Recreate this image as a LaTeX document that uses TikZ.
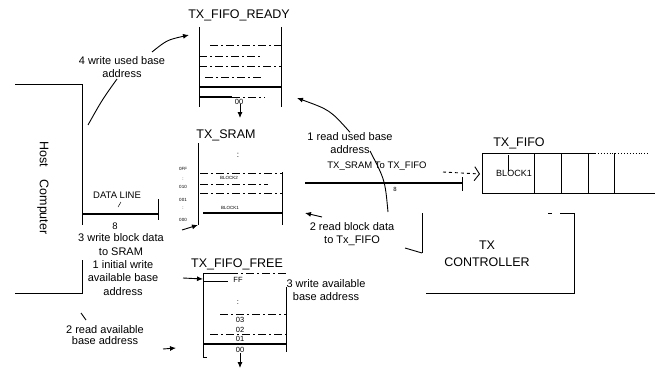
\documentclass[tikz,border=0pt]{standalone}
\usepackage{fontspec}
\setmainfont{Liberation Sans}
\usetikzlibrary{arrows.meta}
\begin{document}
\begin{tikzpicture}[x=1pt,y=-1pt,line width=0.9pt,
  title/.style={font=\fontsize{12.5}{17}\selectfont,inner sep=0pt,align=center},
  lbl/.style={font=\fontsize{11}{12.5}\selectfont,inner sep=0pt,align=center},
  smalltxt/.style={font=\fontsize{9.5}{11}\selectfont,inner sep=0pt},
  numtxt/.style={font=\fontsize{7.5}{8}\selectfont,inner sep=0pt},
  tinytxt/.style={font=\fontsize{4.5}{5}\selectfont,inner sep=0pt},
  rowline/.style={line width=0.7pt,dash pattern=on 8pt off 3pt on 2pt off 3pt},
  thickrow/.style={line width=1.1pt},
  arr/.style={-{Latex[length=6pt,width=5pt]}},
]
\useasboundingbox (0,0) rectangle (659,369);
\fill[white] (0,0) rectangle (659,369);

% Host computer
\draw (15,84) -- (82,84) -- (82,225);
\draw (82,260) -- (82,293) -- (15,293);
\node[title,rotate=-90] (host) at (43,188) {Host\quad Computer};

% 4 write used base address
\node[lbl] (l4w) at (122,67) {4 write used base\\address};
\coordinate (h4) at (88,125);
\coordinate (l4b) at (117,79);
\coordinate (l4a) at (152,52);
\coordinate (rdyin) at (189,35);
\draw (h4) .. controls (102,100) .. (l4b);
\draw[arr] (l4a) .. controls (167,40) .. (rdyin);

% data line
\draw[thickrow] (82,214) -- (158,214);
\draw (158,199) -- (158,220);
\node[smalltxt] (dline) at (117,195) {DATA LINE};
\node[smalltxt] (w8a) at (115,226) {8};
\draw[line width=0.5pt] (118,207) -- (121,202);

% host labels
\node[lbl,font=\fontsize{11}{14}\selectfont] (l3w) at (121,245) {3 write block data\\to SRAM};
\node[lbl,font=\fontsize{11}{13.5}\selectfont] (l1w) at (123,278) {1 initial write\\available base\\address};
\node[lbl,font=\fontsize{11}{11.5}\selectfont] (l2r) at (105,335) {2 read available\\base address};
\coordinate (h2a) at (81,313);
\coordinate (h2b) at (86,320);
\draw (h2a) -- (h2b);
\coordinate (fr2a) at (163,349);
\coordinate (fr2b) at (176,348);
\draw[arr] (fr2a) -- (fr2b);

% TX_FIFO_READY
\node[title] (tready) at (239,15) {TX\_FIFO\_READY};
\draw (199,27) -- (199,107);
\draw (281,27) -- (281,107);
\draw[rowline] (210,45) -- (281,45);
\draw[rowline] (199,56) -- (262,56);
\draw[rowline] (199,66) -- (281,66);
\draw[rowline] (205,77) -- (262,77);
\draw[thickrow] (199,87) -- (281,87);
\draw[thickrow] (199,97) -- (232,97);
\draw[rowline] (232,97) -- (265,97);
\node[numtxt] (r00) at (239,102) {00};
\coordinate (sramin) at (240,118);
\draw[arr] (240,104) -- (sramin);

% TX_SRAM
\node[title] (tsram) at (226,135) {TX\_SRAM};
\draw (198,143) -- (198,225);
\draw (282,172) -- (282,225);
\draw[rowline] (200,173) -- (282,173);
\draw[rowline] (200,184) -- (268,184);
\draw[rowline] (200,193) -- (282,193);
\draw[thickrow] (203,213) -- (282,213);
\node[tinytxt] (b2) at (229,178) {BLOCK2};
\node[tinytxt] (b1) at (230,208) {BLOCK1};
\node[font=\fontsize{8}{8}\selectfont,inner sep=0pt] (vd1) at (238,155) {:};
\node[tinytxt] (a1) at (183,169) {0FF};
\node[tinytxt] (a2) at (183,179) {:};
\node[tinytxt] (a3) at (183,187) {010};
\node[tinytxt] (a4) at (183,200) {001};
\node[tinytxt] (a5) at (183,208) {:};
\node[tinytxt] (a6) at (183,220) {000};
\coordinate (sw1) at (182,230);
\coordinate (sw2) at (198,225);
\draw[arr] (sw1) -- (sw2);

% 1 read used base address
\node[lbl] (l1r) at (350,143) {1 read used base\\address};
\coordinate (rdyout) at (297,98);
\draw[arr] (l1r.north) .. controls (330,110) .. (rdyout);

% SRAM to FIFO path
\node[smalltxt] (tsf) at (377,166) {TX\_SRAM To TX\_FIFO};
\coordinate (dp1) at (305,183);
\coordinate (dp2) at (462,183);
\draw[thickrow] (dp1) -- (dp2);
\draw (462,177) -- (462,191);
\node[font=\fontsize{6}{6}\selectfont,inner sep=0pt] (w8b) at (395,189) {8};
\coordinate (cv1) at (370,151);
\coordinate (cv2) at (388,212);
\draw (cv1) .. controls (385,180) .. (cv2);
\coordinate (fq1) at (443,172);
\coordinate (fifoin) at (480,174);
\draw[dashed,-{Straight Barb[length=5pt,width=14pt]}] (fq1) -- (fifoin);

% TX_FIFO
\node[title] (tfifo) at (519,143) {TX\_FIFO};
\draw (595,153) -- (482,153) -- (482,193) -- (655,193);
\draw[dotted] (595,153) -- (650,153);
\foreach \x in {534,561,588,614} \draw (\x,153) -- (\x,193);
\draw[line width=0.5pt] (508,155) -- (508,171);
\node[font=\fontsize{9}{10}\selectfont,inner sep=0pt] (blk) at (514,173) {BLOCK1};

% TX CONTROLLER
\draw (422,213) -- (422,253);
\draw (426,293) -- (574,293) -- (574,213) -- (560,213);
\draw (548,213) -- (552,213);
\node[title] (ctrl) at (487,254) {TX\\CONTROLLER};

% 2 read block data
\node[lbl] (l2b) at (352,234) {2 read block data\\to Tx\_FIFO};
\coordinate (c2a) at (422,253);
\coordinate (c2b) at (405,248);
\draw (c2a) -- (c2b);
\coordinate (rb1) at (322,217);
\coordinate (rb2) at (305,213);
\draw[arr] (rb1) -- (rb2);

% TX_FIFO_FREE
\node[title] (tfree) at (237,264) {TX\_FIFO\_FREE};
\draw (230,273) -- (203,273) -- (203,357) -- (207,357);
\draw[rowline] (230,273) -- (286,273);
\draw (286,287) -- (286,352);
\draw (203,281) -- (228,281);
\node[numtxt] (ff) at (238,280) {FF};
\node[numtxt] (vd2) at (238,303) {:};
\draw[rowline] (220,314) -- (286,314);
\node[numtxt] (f03) at (240,320) {03};
\node[numtxt] (f02) at (240,330) {02};
\draw[rowline] (210,334) -- (286,334);
\node[numtxt] (f01) at (240,339) {01};
\draw[thickrow] (203,344) -- (286,344);
\node[numtxt] (f00) at (240,350) {00};
\coordinate (freeout) at (240,368);
\draw[arr] (f00.south) -- (freeout);
\coordinate (fi1) at (183,278);
\coordinate (fi2) at (203,279);
\draw[arr] (fi1) -- (fi2);

\node[lbl,font=\fontsize{11}{13.5}\selectfont] (l3a) at (326,290) {3 write available\\base address};
\end{tikzpicture}
\end{document}
